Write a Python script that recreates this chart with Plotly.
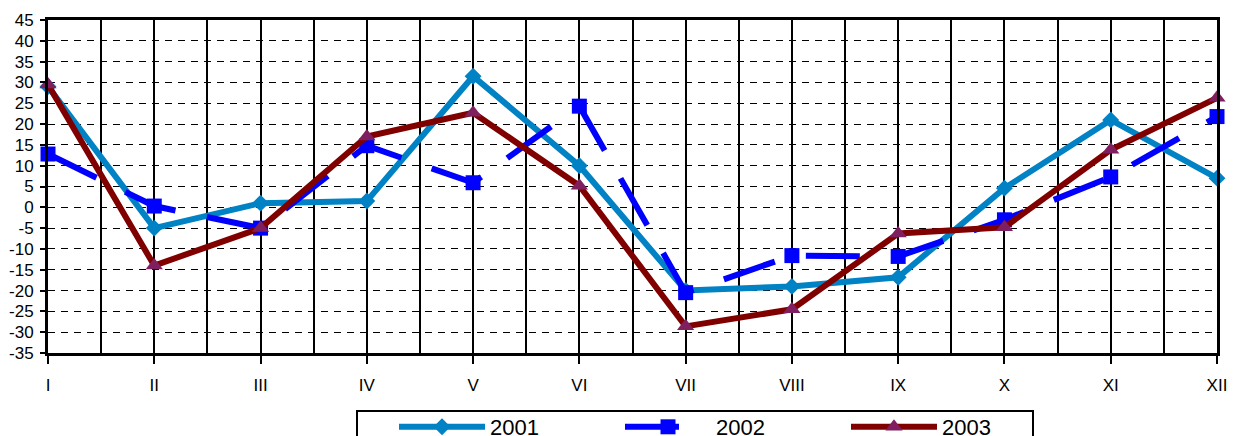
import plotly.graph_objects as go

months = ["I", "II", "III", "IV", "V", "VI", "VII", "VIII", "IX", "X", "XI", "XII"]
y2001 = [29.0, -5.0, 1.0, 1.5, 31.5, 10.0, -20.0, -19.0, -16.8, 4.6, 21.0, 7.0]
y2002 = [12.8, 0.3, -5.0, 14.8, 5.9, 24.3, -20.5, -11.6, -11.8, -3.0, 7.3, 21.8]
y2003 = [29.5, -14.0, -5.0, 17.0, 22.7, 5.2, -28.6, -24.5, -6.3, -4.8, 13.8, 26.3]
yticks = list(range(-35, 50, 5))

xs = list(range(len(months)))

# page offset (body margin) of the html page
OFF = 8
W, H = 1237 - OFF, 436 - OFF
ml, mr, mt, mb = 48 - OFF, 20, 20 - OFF, 83
pw, ph = W - ml - mr, H - mt - mb

def px2x(p):  # page pixel -> paper x
    return (p - OFF - ml) / pw

def px2y(p):  # page pixel -> paper y
    return (H - mb - (p - OFF)) / ph

fig = go.Figure()
fig.add_trace(go.Scatter(
    x=xs, y=y2001, name="2001", mode="lines+markers", cliponaxis=False,
    line=dict(color="#0082C4", width=6),
    marker=dict(symbol="diamond", size=13, color="#0082C4"),
))
fig.add_trace(go.Scatter(
    x=xs, y=y2002, name="2002", mode="lines+markers", cliponaxis=False,
    line=dict(color="#0000FF", width=6, dash="54px,32px"),
    marker=dict(symbol="square", size=15, color="#0000FF"),
))
fig.add_trace(go.Scatter(
    x=xs, y=y2003, name="2003", mode="lines+markers", cliponaxis=False,
    line=dict(color="#800000", width=6),
    marker=dict(symbol="triangle-up", size=15, color="#7F1F5F"),
))

fig.update_layout(
    width=W, height=H,
    margin=dict(l=ml, r=mr, t=mt, b=mb, autoexpand=False),
    paper_bgcolor="white", plot_bgcolor="white",
    font=dict(family="Liberation Sans, Arial, sans-serif", size=16, color="black"),
    showlegend=True,
    legend=dict(
        orientation="h", x=px2x(394), y=px2y(406), xanchor="left", yanchor="top",
        font=dict(size=22, color="black"), bgcolor="rgba(0,0,0,0)",
        entrywidth=125, entrywidthmode="pixels", itemwidth=86,
        borderwidth=0,
    ),
    shapes=[dict(
        type="rect", xref="paper", yref="paper",
        x0=px2x(357), x1=px2x(1033), y0=px2y(445), y1=px2y(411),
        line=dict(color="black", width=2), fillcolor="rgba(0,0,0,0)",
    )],
)

fig.update_xaxes(
    range=[0, len(months) - 1],
    tickmode="array", tickvals=xs, ticktext=months,
    showgrid=True, gridcolor="black", gridwidth=2,
    minor=dict(dtick=0.5, tick0=0, showgrid=True, gridcolor="black", gridwidth=2, ticks=""),
    showline=True, linecolor="black", linewidth=3, mirror=True,
    ticks="outside", ticklen=8, tickwidth=2, tickcolor="black",
    ticklabelstandoff=7, zeroline=False,
    tickfont=dict(size=17),
)
fig.update_yaxes(
    range=[-35, 45],
    tickmode="array", tickvals=yticks, ticktext=[str(v) for v in yticks],
    showgrid=True, gridcolor="black", gridwidth=1, griddash="7px,6px",
    showline=True, linecolor="black", linewidth=3, mirror=True,
    ticks="outside", ticklen=5, tickwidth=2, tickcolor="black",
    ticklabelstandoff=3, zeroline=False,
    tickfont=dict(size=17),
)

fig.write_html("out.html")
